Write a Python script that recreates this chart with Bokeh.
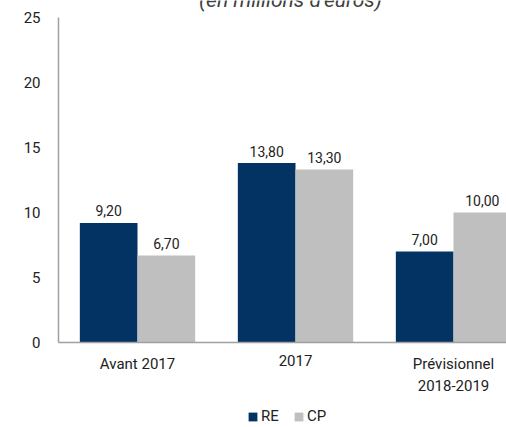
from bokeh.plotting import figure
from bokeh.models import ColumnDataSource, Label, Legend, LegendItem, Range1d
from bokeh.core.properties import value
from bokeh.embed import file_html
from bokeh.resources import INLINE

categories = ["Avant 2017", "2017", "Prévisionnel\n2018-2019"]
re_values = [9.20, 13.80, 7.00]
cp_values = [6.70, 13.30, 10.00]
y_ticks = [0, 5, 10, 15, 20, 25]

FONT = value("Roboto")
NAVY = "#023363"
GREY = "#BFBFBF"
TXT = "#222222"
AXIS = "#A0A0A0"

W, H = 506, 427
X0, Y0 = 58, 342          # pixel position of the origin
PX_X, PX_Y = 158, 13      # pixels per unit

centers = [i + 0.5 for i in range(len(categories))]
bw = 0.365
re_x = [c - bw / 2 for c in centers]
cp_x = [c + bw / 2 for c in centers]

def fmt(v):
    return f"{v:.2f}".replace(".", ",")

dy = lambda px: px / PX_Y
dx = lambda px: px / PX_X

p = figure(width=W, height=H, output_backend="svg", toolbar_location=None,
           x_range=Range1d(-X0 / PX_X, (W - X0) / PX_X),
           y_range=Range1d(-(H - Y0) / PX_Y, Y0 / PX_Y),
           min_border=0)
p.axis.visible = False
p.outline_line_color = None
p.grid.grid_line_color = None
p.background_fill_color = "white"
p.border_fill_color = "white"

r1 = p.vbar(x=re_x, top=re_values, width=bw, color=NAVY, line_color=None)
r2 = p.vbar(x=cp_x, top=cp_values, width=bw, color=GREY, line_color=None)

# value labels
p.text(x=re_x, y=[v + dy(12) for v in re_values], text=[fmt(v) for v in re_values],
       text_align="center", text_baseline="alphabetic", text_font=FONT,
       text_font_size="14px", text_color=TXT)
p.text(x=cp_x, y=[v + dy(12) for v in cp_values], text=[fmt(v) for v in cp_values],
       text_align="center", text_baseline="alphabetic", text_font=FONT,
       text_font_size="14px", text_color=TXT)

# axes lines
p.segment(x0=[0, 0], y0=[0, 0], x1=[0, (W - X0) / PX_X], y1=[y_ticks[-1], 0],
          line_color=AXIS, line_width=1.5)

# y tick labels
p.text(x=[-dx(18)] * len(y_ticks), y=y_ticks, text=[str(t) for t in y_ticks],
       text_align="right", text_baseline="middle", text_font=FONT,
       text_font_size="15px", text_color=TXT)

# x tick labels
p.text(x=centers, y=[-dy(12)] * len(centers), text=categories,
       text_align="center", text_baseline="top", text_font=FONT,
       text_font_size="15px", text_color=TXT, text_line_height=1.25)

# title (partially cut at top, as in the reference)
p.add_layout(Label(x=dx(290 - X0), y=dy(Y0 + 1), text="(en millions d'euros)",
                   text_align="center", text_baseline="alphabetic", text_font="Roboto",
                   text_font_style="italic", text_font_size="21px", text_color="#404040"))

legend = Legend(items=[LegendItem(label="RE", renderers=[r1]), LegendItem(label="CP", renderers=[r2])],
                orientation="horizontal", location=(247, 2), padding=0, margin=0,
                glyph_width=11, glyph_height=11, label_standoff=3, spacing=12,
                label_text_font="Roboto", label_text_font_size="15px", label_text_color=TXT,
                label_height=13, border_line_color=None, background_fill_alpha=0)
p.add_layout(legend, "center")

open("out.html", "w").write(file_html(p, INLINE))
